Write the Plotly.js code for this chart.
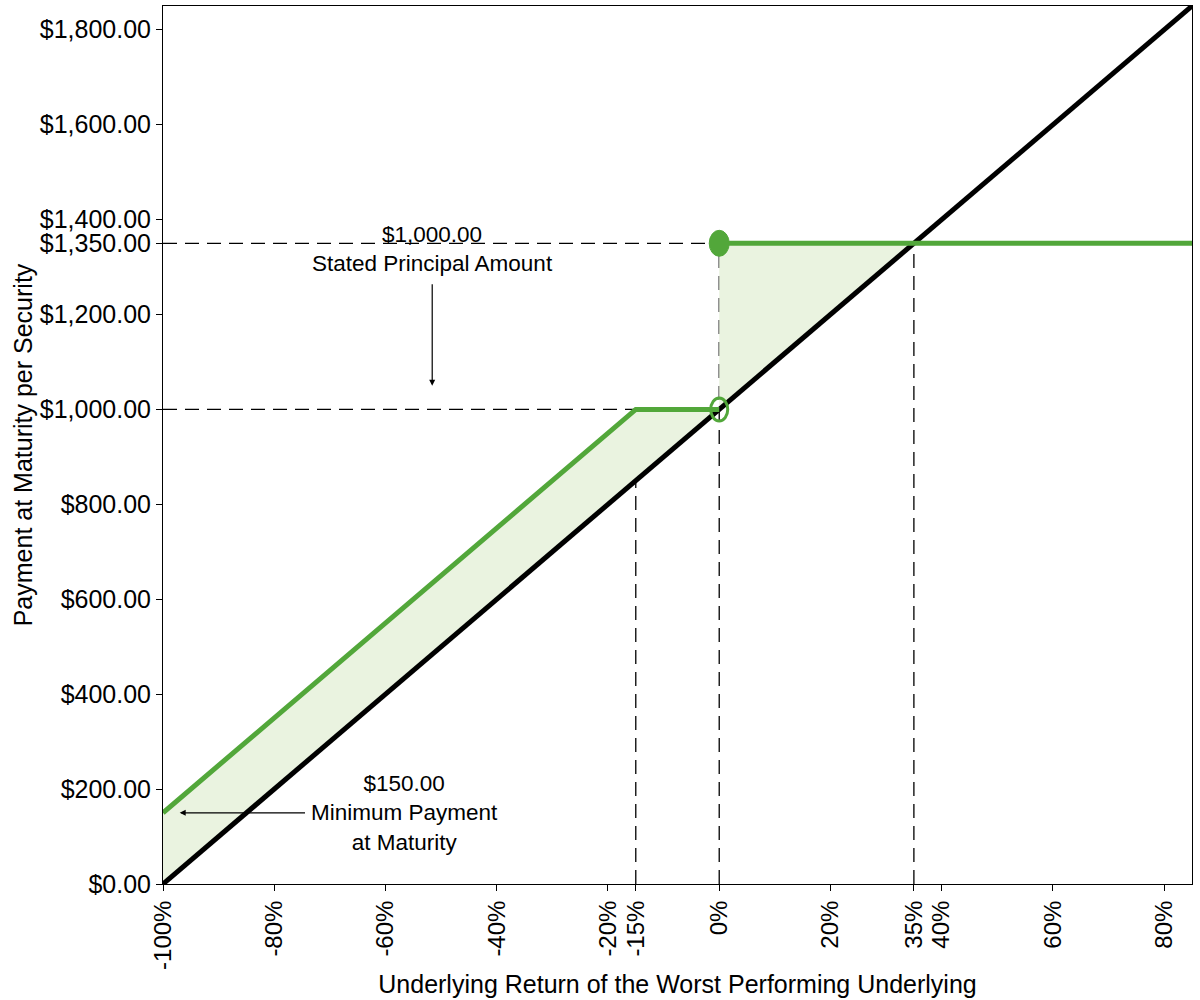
<!DOCTYPE html>
<html>
<head>
<meta charset="utf-8">
<script src="https://cdn.plot.ly/plotly-3.0.1.min.js"></script>
<style>
  body { margin: 0; background: #fff; }
  #chart { width: 1200px; height: 1000px; }
</style>
</head>
<body>
<div id="chart"></div>
<script>
// underlying return (%) and payment ($)
const underlyingX = [-100, 85];
const underlyingY = [0, 1850];

const payoffX = [-100, -15, 0];
const payoffY = [150, 1000, 1000];
const cappedX = [0, 85];
const cappedY = [1350, 1350];

// shaded region between payoff and underlying, up to the 35% crossover
const fillX = [-100, -15, 0, 0, 35, -100];
const fillY = [150, 1000, 1000, 1350, 1350, 0];

const openDot = { x: 0, y: 1000 };
const closedDot = { x: 0, y: 1350 };

const xTicks = [-100, -80, -60, -40, -20, -15, 0, 20, 35, 40, 60, 80];
const yTicks = [0, 200, 400, 600, 800, 1000, 1200, 1350, 1400, 1600, 1800];

const green = '#52a73a';
const fontFam = 'Liberation Sans, Arial, sans-serif';

const fmtMoney = v => '$' + v.toLocaleString('en-US', { minimumFractionDigits: 2, maximumFractionDigits: 2 });

const traces = [
    {
        x: fillX, y: fillY,
        type: 'scatter', mode: 'lines',
        fill: 'toself', fillcolor: '#eaf3e0',
        line: { width: 0 },
        hoverinfo: 'skip'
    },
    {
        x: underlyingX, y: underlyingY,
        type: 'scatter', mode: 'lines',
        line: { color: '#000', width: 5 }
    },
    {
        x: payoffX, y: payoffY,
        type: 'scatter', mode: 'lines',
        line: { color: green, width: 5 }
    },
    {
        x: cappedX, y: cappedY,
        type: 'scatter', mode: 'lines',
        line: { color: green, width: 5 }
    }
];

const dashLine = { color: '#000', width: 1.3, dash: '14px,8px' };

const shapes = [
    // horizontal guides
    { type: 'line', xref: 'x', yref: 'y', x0: -100, x1: payoffX[1], y0: payoffY[1], y1: payoffY[1], line: dashLine, layer: 'below' },
    { type: 'line', xref: 'x', yref: 'y', x0: -100, x1: closedDot.x, y0: closedDot.y, y1: closedDot.y, line: dashLine, layer: 'below' },
    // vertical guides
    { type: 'line', xref: 'x', yref: 'y', x0: payoffX[1], x1: payoffX[1], y0: 0, y1: payoffY[1], line: dashLine, layer: 'below' },
    { type: 'line', xref: 'x', yref: 'y', x0: closedDot.x, x1: closedDot.x, y0: 0, y1: closedDot.y, line: dashLine, layer: 'below' },
    { type: 'line', xref: 'x', yref: 'y', x0: 35, x1: 35, y0: 0, y1: cappedY[0], line: dashLine, layer: 'below' },
    // endpoint markers
    {
        type: 'circle', xref: 'x', yref: 'y',
        xsizemode: 'pixel', ysizemode: 'pixel',
        xanchor: closedDot.x, yanchor: closedDot.y,
        x0: -10, x1: 10, y0: -13, y1: 13,
        fillcolor: green, line: { color: green, width: 1 }
    },
    {
        type: 'circle', xref: 'x', yref: 'y',
        xsizemode: 'pixel', ysizemode: 'pixel',
        xanchor: openDot.x, yanchor: openDot.y,
        x0: -8.5, x1: 8.5, y0: -11.5, y1: 11.5,
        fillcolor: 'rgba(0,0,0,0)', line: { color: green, width: 3 }
    }
];

const annotations = [
    {
        x: -51.6, y: 1338, xref: 'x', yref: 'y',
        text: '$1,000.00<br>Stated Principal Amount',
        showarrow: false, align: 'center',
        font: { family: fontFam, size: 22.5, color: '#000' }
    },
    {
        x: -51.6, y: 1050, ax: -51.6, ay: 1267,
        xref: 'x', yref: 'y', axref: 'x', ayref: 'y',
        text: '', showarrow: true,
        arrowhead: 2, arrowsize: 1, arrowwidth: 1.2, arrowcolor: '#000'
    },
    {
        x: -56.6, y: 150, xref: 'x', yref: 'y',
        text: '$150.00<br>Minimum Payment<br>at Maturity',
        showarrow: false, align: 'center',
        font: { family: fontFam, size: 22.5, color: '#000' }
    },
    {
        x: -97, y: 150, ax: -74.2, ay: 150,
        xref: 'x', yref: 'y', axref: 'x', ayref: 'y',
        text: '', showarrow: true,
        arrowhead: 2, arrowsize: 1, arrowwidth: 1.2, arrowcolor: '#000'
    }
];

const layout = {
    width: 1200, height: 1000,
    margin: { l: 163, r: 8, t: 6, b: 116 },
    paper_bgcolor: '#fff', plot_bgcolor: '#fff',
    showlegend: false,
    font: { family: fontFam, color: '#000' },
    xaxis: {
        range: [-100, 85],
        tickvals: xTicks,
        ticktext: xTicks.map(v => v + '%'),
        tickangle: -90,
        tickfont: { size: 24 },
        ticks: 'outside', ticklen: 6, tickcolor: '#000',
        showgrid: false, zeroline: false,
        showline: true, linecolor: '#000', linewidth: 1, mirror: true,
        title: { text: 'Underlying Return of the Worst Performing Underlying', font: { size: 25 }, standoff: 6 }
    },
    yaxis: {
        range: [0, 1850],
        tickvals: yTicks,
        ticktext: yTicks.map(fmtMoney),
        tickfont: { size: 25 },
        ticks: 'outside', ticklen: 6, tickcolor: '#000',
        showgrid: false, zeroline: false,
        showline: true, linecolor: '#000', linewidth: 1, mirror: true,
        title: { text: 'Payment at Maturity per Security', font: { size: 25 }, standoff: 0 }
    },
    shapes: shapes,
    annotations: annotations
};

Plotly.newPlot('chart', traces, layout, { staticPlot: true });
</script>
</body>
</html>
